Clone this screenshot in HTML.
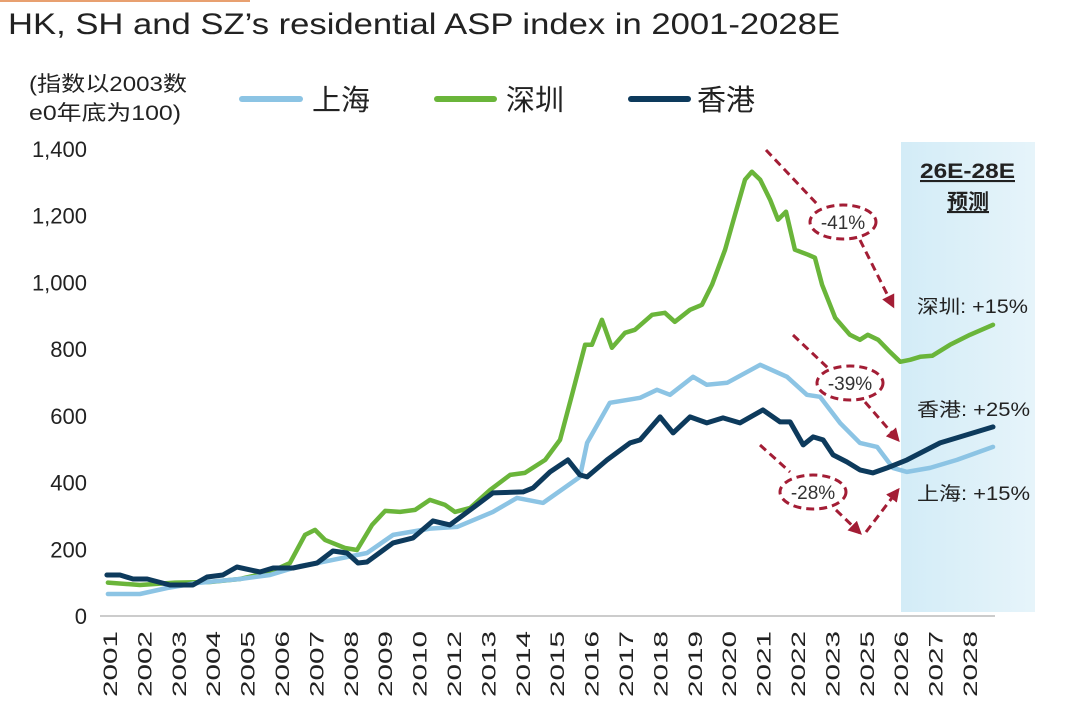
<!DOCTYPE html>
<html><head><meta charset="utf-8">
<style>
body{margin:0;background:#fff;width:1080px;height:720px;overflow:hidden;font-family:"Liberation Sans","Noto Sans CJK SC",sans-serif;}
svg{display:block}
text{font-family:"Liberation Sans","Noto Sans CJK SC",sans-serif;}
</style></head>
<body>
<svg id="chart" width="1080" height="720" viewBox="0 0 1080 720">
  <defs>
    <linearGradient id="fc" x1="0" y1="0" x2="1" y2="0">
      <stop offset="0" stop-color="#d3ecf7"/><stop offset="1" stop-color="#e6f4fa"/>
    </linearGradient>
    <marker id="ah" viewBox="0 0 10 10" refX="8" refY="5" markerWidth="4.5" markerHeight="4.5" orient="auto">
      <path d="M0,0 L10,5 L0,10 z" fill="#a31d35"/>
    </marker>
  </defs>
  <rect x="0" y="0" width="250" height="2" fill="#e8a070"/>
  <text x="8" y="34" font-size="30" textLength="832" lengthAdjust="spacingAndGlyphs" fill="#222">HK, SH and SZ’s residential ASP index in 2001-2028E</text>
  <text x="29" y="91" font-size="21" textLength="158" lengthAdjust="spacingAndGlyphs" fill="#222">(指数以2003数</text>
  <text x="29" y="120" font-size="21" textLength="152" lengthAdjust="spacingAndGlyphs" fill="#222">e0年底为100)</text>

  <g>
    <g>
      <line x1="242" y1="99" x2="300" y2="99" stroke="#8cc4e4" stroke-width="6" stroke-linecap="round"/>
      <text x="312" y="110" font-size="29" fill="#222">上海</text>
    </g>
    <g>
      <line x1="437" y1="99" x2="494" y2="99" stroke="#6ab53a" stroke-width="6" stroke-linecap="round"/>
      <text x="506" y="110" font-size="29" fill="#222">深圳</text>
    </g>
    <g>
      <line x1="631" y1="99" x2="688" y2="99" stroke="#0d3a5c" stroke-width="6" stroke-linecap="round"/>
      <text x="697" y="110" font-size="29" fill="#222">香港</text>
    </g>
  </g>

  <rect x="901" y="142" width="134" height="470" fill="url(#fc)"/>
  <text x="920" y="178" font-size="21" textLength="95" lengthAdjust="spacingAndGlyphs" font-weight="bold" fill="#222" text-decoration="underline">26E-28E</text>
  <text x="968" y="209" font-size="21" font-weight="bold" fill="#222" text-anchor="middle" text-decoration="underline">预测</text>

  <g id="yticks"></g>
  <g id="xticks"></g>
  <line x1="100" y1="616" x2="995" y2="616" stroke="#bbb" stroke-width="1.5"/>
  <g id="lines"></g>

  <g stroke="#a31d35" stroke-width="3" stroke-dasharray="8,5" fill="none">
    <line x1="766" y1="150" x2="818" y2="205"/>
    <line x1="860" y1="240" x2="893" y2="306" marker-end="url(#ah)"/>
    <ellipse cx="843" cy="222" rx="33" ry="17"/>
    <line x1="793" y1="335" x2="828" y2="368"/>
    <line x1="865" y1="402" x2="898" y2="440" marker-end="url(#ah)"/>
    <ellipse cx="850" cy="383" rx="33" ry="17"/>
    <line x1="760" y1="445" x2="790" y2="472"/>
    <line x1="836" y1="510" x2="860" y2="533" marker-end="url(#ah)"/>
    <line x1="866" y1="532" x2="898" y2="490" marker-end="url(#ah)"/>
    <ellipse cx="813" cy="492" rx="33" ry="17"/>
  </g>
  <g font-size="19" fill="#333" text-anchor="middle">
    <text x="843" y="229">-41%</text>
    <text x="850" y="390">-39%</text>
    <text x="813" y="499">-28%</text>
  </g>
  <g font-size="19" fill="#222">
    <text x="917" y="313" textLength="111" lengthAdjust="spacingAndGlyphs">深圳: +15%</text>
    <text x="917" y="416" textLength="113" lengthAdjust="spacingAndGlyphs">香港: +25%</text>
    <text x="917" y="500" textLength="113" lengthAdjust="spacingAndGlyphs">上海: +15%</text>
  </g>
</svg>
<script>
const yTickValues = [0,200,400,600,800,1000,1200,1400];
const yTickLabels = ["0","200","400","600","800","1,000","1,200","1,400"];
const xLabels = ["2001","2002","2003","2004","2005","2006","2007","2008","2009","2010","2012","2013","2014","2015","2016","2017","2018","2019","2020","2021","2022","2023","2025","2026","2027","2028"];

const shX = [-0.06,0.87,1.66,2.53,3.78,4.65,5.52,6.1,7.47,8.23,9.3,10.09,11.13,11.83,12.59,13.66,13.87,14.53,15.41,15.9,16.28,16.95,17.35,17.94,18.9,19.68,20.26,20.64,21.22,21.8,22.3,22.76,23.17,23.84,24.62,25.67];
const shY = [66,66,84,99,111,123,150,160,189,243,262,267,312,354,339,417,519,639,654,678,663,717,693,699,753,717,663,657,579,519,507,444,432,444,468,507];

const szX = [-0.06,0.87,1.89,2.91,3.78,4.65,5.23,5.67,5.96,6.25,6.83,7.18,7.62,8.0,8.43,8.87,9.3,9.74,10.03,10.47,11.05,11.63,12.06,12.65,13.08,13.43,13.81,14.01,14.3,14.59,14.97,15.26,15.76,16.13,16.42,16.86,17.21,17.5,17.88,18.17,18.46,18.66,18.9,19.19,19.42,19.65,19.91,20.29,20.49,20.7,21.08,21.51,21.8,22.03,22.33,22.67,22.97,23.26,23.55,23.9,24.42,25.0,25.67];
const szY = [100,93,100,102,111,132,159,243,258,228,204,198,273,315,312,318,348,333,312,324,378,423,429,468,528,663,813,813,888,804,849,858,903,909,882,918,933,993,1098,1203,1308,1332,1308,1248,1188,1212,1098,1083,1074,993,894,843,828,843,828,792,762,768,777,780,813,843,873];

const hkX = [-0.09,0.29,0.67,1.08,1.74,2.41,2.82,3.28,3.69,4.36,4.74,5.32,6.02,6.48,6.89,7.21,7.47,8.23,8.81,9.39,9.88,10.55,11.13,12.01,12.3,12.79,13.31,13.66,13.87,14.45,15.12,15.41,15.99,16.37,16.86,17.35,17.82,18.31,18.98,19.48,19.77,20.15,20.44,20.73,21.02,21.42,21.8,22.18,22.59,23.17,24.13,24.71,25.67];
const hkY = [123,123,111,111,93,93,117,123,147,132,144,144,159,195,189,159,162,219,234,285,273,324,369,372,384,432,468,423,417,468,519,528,597,549,597,579,594,579,618,582,582,513,537,528,483,462,438,429,444,468,519,537,567];

const NS='http://www.w3.org/2000/svg';
const x0=110, xStep=34.4, yBase=616, yTop=149, yMax=1400;
function xs(i){return x0+i*xStep;}
function ys(v){return yBase-(v/yMax)*(yBase-yTop);}

const yg=document.getElementById('yticks');
yTickValues.forEach((v,i)=>{
  const t=document.createElementNS(NS,'text');
  t.setAttribute('x',87);t.setAttribute('y',ys(v)+8);
  t.setAttribute('text-anchor','end');t.setAttribute('font-size','22');t.setAttribute('fill','#222');
  t.textContent=yTickLabels[i];
  
  
  yg.appendChild(t);
});
const xg=document.getElementById('xticks');
xLabels.forEach((l,i)=>{
  const t=document.createElementNS(NS,'text');
  const x=xs(i)+7, y=631;
  t.setAttribute('x',x);t.setAttribute('y',y);
  t.setAttribute('transform','rotate(-90 '+x+' '+y+')');
  t.setAttribute('text-anchor','end');t.setAttribute('font-size','19');t.setAttribute('fill','#222');
  t.setAttribute('textLength','66');t.setAttribute('lengthAdjust','spacingAndGlyphs');
  t.textContent=l;
  
  
  xg.appendChild(t);
});
const lg=document.getElementById('lines');
function drawLine(X,Y,color,w,name){
  const p=document.createElementNS(NS,'polyline');
  p.setAttribute('points',X.map((x,i)=>xs(x).toFixed(1)+','+ys(Y[i]).toFixed(1)).join(' '));
  p.setAttribute('fill','none');p.setAttribute('stroke',color);p.setAttribute('stroke-width',w);
  p.setAttribute('stroke-linejoin','round');p.setAttribute('stroke-linecap','round');
  
  
  lg.appendChild(p);
}
drawLine(szX,szY,'#6ab53a',4.5,'shenzhen-line');
drawLine(shX,shY,'#8cc4e4',4.5,'shanghai-line');
drawLine(hkX,hkY,'#0d3a5c',5,'hongkong-line');
</script>
</body></html>
